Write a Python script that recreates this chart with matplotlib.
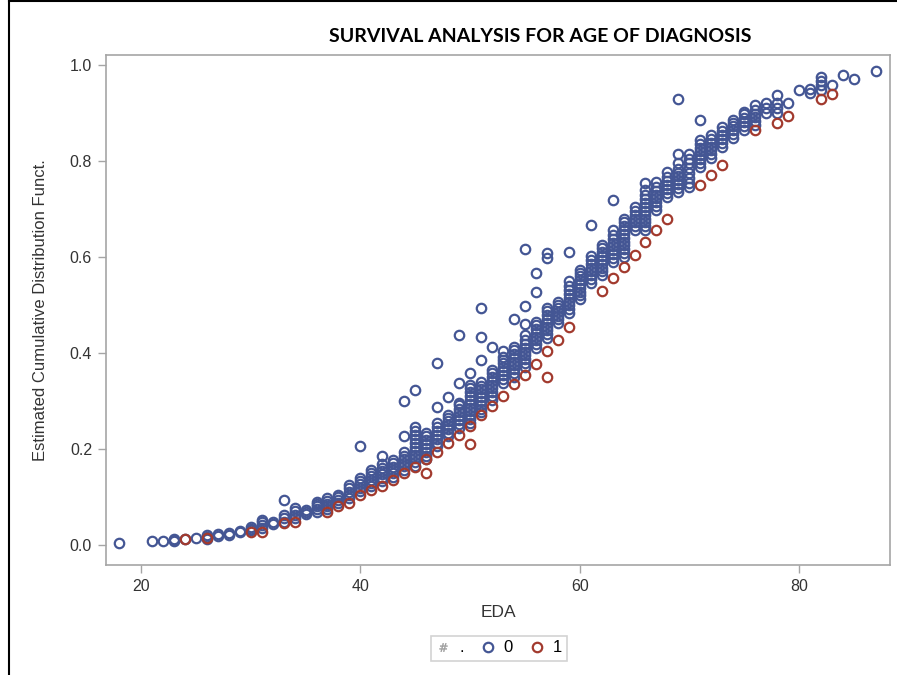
import matplotlib
matplotlib.use("Agg")
import matplotlib.pyplot as plt
from matplotlib.lines import Line2D

# group 0 (blue): age of diagnosis and estimated CDF values at that age
ages_0 = [18, 21, 22, 23, 24, 25, 26, 27, 28, 29, 30, 31, 32, 33, 34, 35, 36, 37, 38, 39,
          40, 41, 42, 43, 44, 45, 46, 47, 48, 49, 50, 51, 52, 53, 54, 55, 56, 57, 58, 59,
          60, 61, 62, 63, 64, 65, 66, 67, 68, 69, 70, 71, 72, 73, 74, 75, 76, 77, 78, 79,
          80, 81, 82, 83, 84, 85, 87]
cdf_0 = [
    [0.004], [0.007], [0.009], [0.009, 0.011, 0.013], [0.012], [0.014],
    [0.013, 0.017, 0.020], [0.019, 0.022], [0.021, 0.024], [0.026, 0.029],
    [0.030, 0.034, 0.038], [0.036, 0.042, 0.047, 0.052], [0.043, 0.047],
    [0.048, 0.055, 0.062, 0.094], [0.056, 0.063, 0.070, 0.077], [0.064, 0.069, 0.073],
    [0.068, 0.074, 0.080, 0.086, 0.090], [0.074, 0.080, 0.086, 0.092, 0.097],
    [0.088, 0.094, 0.099, 0.104], [0.098, 0.104, 0.111, 0.118, 0.125],
    [0.112, 0.119, 0.126, 0.133, 0.140, 0.205],
    [0.122, 0.129, 0.136, 0.143, 0.150, 0.156],
    [0.133, 0.140, 0.147, 0.154, 0.161, 0.168, 0.185],
    [0.142, 0.149, 0.156, 0.163, 0.170, 0.177],
    [0.157, 0.164, 0.171, 0.178, 0.186, 0.194, 0.226, 0.299],
    [0.164, 0.172, 0.180, 0.188, 0.196, 0.204, 0.212, 0.220, 0.228, 0.237, 0.246, 0.323],
    [0.178, 0.186, 0.194, 0.202, 0.210, 0.218, 0.226, 0.233],
    [0.205, 0.213, 0.221, 0.229, 0.237, 0.245, 0.254, 0.288, 0.379],
    [0.226, 0.234, 0.242, 0.250, 0.258, 0.265, 0.271, 0.309],
    [0.244, 0.252, 0.260, 0.268, 0.276, 0.284, 0.292, 0.296, 0.338, 0.4375],
    [0.254, 0.262, 0.270, 0.278, 0.286, 0.294, 0.302, 0.310, 0.318, 0.326, 0.333, 0.358],
    [0.276, 0.284, 0.292, 0.300, 0.308, 0.316, 0.324, 0.332, 0.339, 0.385, 0.433, 0.494],
    [0.302, 0.310, 0.318, 0.326, 0.334, 0.342, 0.350, 0.358, 0.365, 0.413],
    [0.338, 0.346, 0.354, 0.362, 0.370, 0.378, 0.386, 0.392, 0.405],
    [0.350, 0.358, 0.366, 0.374, 0.382, 0.390, 0.398, 0.406, 0.413, 0.470],
    [0.371, 0.379, 0.387, 0.395, 0.403, 0.411, 0.419, 0.427, 0.437, 0.460, 0.498, 0.617],
    [0.410, 0.418, 0.426, 0.434, 0.442, 0.450, 0.458, 0.465, 0.528, 0.567],
    [0.431, 0.439, 0.447, 0.455, 0.463, 0.471, 0.479, 0.487, 0.494, 0.598, 0.609],
    [0.462, 0.470, 0.478, 0.486, 0.494, 0.500, 0.507],
    [0.483, 0.491, 0.499, 0.507, 0.515, 0.523, 0.531, 0.540, 0.549, 0.611],
    [0.512, 0.520, 0.528, 0.536, 0.544, 0.552, 0.560, 0.567, 0.573],
    [0.546, 0.554, 0.562, 0.570, 0.578, 0.586, 0.594, 0.602, 0.667],
    [0.562, 0.570, 0.578, 0.586, 0.594, 0.602, 0.610, 0.618, 0.625],
    [0.590, 0.598, 0.606, 0.614, 0.622, 0.630, 0.638, 0.646, 0.656, 0.719],
    [0.600, 0.608, 0.616, 0.624, 0.632, 0.640, 0.648, 0.656, 0.664, 0.672, 0.680],
    [0.656, 0.664, 0.672, 0.680, 0.688, 0.696, 0.705],
    [0.656, 0.664, 0.672, 0.680, 0.688, 0.696, 0.704, 0.712, 0.720, 0.730, 0.740, 0.754],
    [0.698, 0.706, 0.714, 0.722, 0.730, 0.738, 0.746, 0.757],
    [0.726, 0.734, 0.742, 0.750, 0.758, 0.766, 0.778],
    [0.736, 0.744, 0.752, 0.760, 0.768, 0.776, 0.784, 0.795, 0.815, 0.929],
    [0.745, 0.755, 0.765, 0.775, 0.785, 0.795, 0.805, 0.815],
    [0.788, 0.796, 0.804, 0.812, 0.820, 0.828, 0.836, 0.844, 0.885],
    [0.806, 0.814, 0.822, 0.830, 0.838, 0.846, 0.854],
    [0.830, 0.838, 0.846, 0.854, 0.862, 0.871],
    [0.848, 0.856, 0.864, 0.872, 0.880, 0.885],
    [0.865, 0.873, 0.881, 0.889, 0.897, 0.903],
    [0.875, 0.883, 0.891, 0.899, 0.907, 0.917],
    [0.900, 0.910, 0.921], [0.900, 0.910, 0.920, 0.9375], [0.920],
    [0.949], [0.942, 0.950], [0.949, 0.958, 0.967, 0.976], [0.958], [0.979], [0.970], [0.988],
]

# group 1 (red)
ages_1 = [24, 26, 30, 31, 33, 34, 37, 38, 39, 40, 41, 42, 43, 44, 45, 46, 46, 47, 48, 49,
          50, 50, 51, 52, 53, 54, 55, 56, 57, 57, 58, 59, 62, 63, 64, 65, 66, 67, 68, 71,
          72, 73, 76, 78, 79, 82, 83]
cdf_1 = [0.012, 0.015, 0.027, 0.026, 0.045, 0.048, 0.069, 0.080, 0.088, 0.104, 0.114, 0.122,
         0.135, 0.150, 0.163, 0.150, 0.178, 0.194, 0.212, 0.229, 0.210, 0.248, 0.271, 0.289,
         0.310, 0.335, 0.354, 0.377, 0.349, 0.404, 0.427, 0.454, 0.530, 0.557, 0.580, 0.604,
         0.632, 0.656, 0.680, 0.750, 0.771, 0.792, 0.865, 0.880, 0.894, 0.929, 0.939]

blue = '#445694'
red = '#A23A2E'
grey = '#A5A5A5'

x0 = [a for a, col in zip(ages_0, cdf_0) for _ in col]
y0 = [v for col in cdf_0 for v in col]

fig = plt.figure(figsize=(8.97, 6.75), dpi=100)
ax = fig.add_axes([106 / 897, 1 - 565 / 675, 784 / 897, 510 / 675])

mk = dict(marker='o', linestyle='none', markersize=6.8, markeredgewidth=1.6,
          markerfacecolor='none')
ax.plot(x0, y0, markeredgecolor=blue, **mk)
ax.plot(ages_1, cdf_1, markeredgecolor=red, **mk)

ax.set_xlim(16.8, 88.3)
ax.set_ylim(-0.042, 1.021)
ax.set_xticks([20, 40, 60, 80])
ax.set_yticks([0.0, 0.2, 0.4, 0.6, 0.8, 1.0])
ax.set_yticklabels(['0.0', '0.2', '0.4', '0.6', '0.8', '1.0'])

font = 'Liberation Sans'
for s in ax.spines.values():
    s.set_color(grey)
    s.set_linewidth(1.2)
ax.tick_params(direction='out', length=6, width=1, color=grey, labelsize=11.5,
               labelcolor='#333333', pad=4)
for lbl in ax.get_xticklabels() + ax.get_yticklabels():
    lbl.set_fontfamily(font)

ax.set_xlabel('EDA', fontsize=12.5, family=font, color='#333333', labelpad=8)
ax.set_ylabel('Estimated Cumulative Distribution Funct.', fontsize=12, family=font,
              color='#333333', labelpad=16)

fig.text(540 / 897, 1 - 36 / 675, 'SURVIVAL ANALYSIS FOR AGE OF DIAGNOSIS',
         ha='center', va='center', fontsize=14, fontweight='bold', family='Lato')

handles = [
    Line2D([], [], marker='$\\#$', linestyle='none', color='#9A9A9A', markersize=6,
           markeredgewidth=0.3),
    Line2D([], [], markeredgecolor=blue, **mk),
    Line2D([], [], markeredgecolor=red, **mk),
]
leg = fig.legend(handles, ['.', '0', '1'], loc='center', bbox_to_anchor=(499 / 897, 1 - 648 / 675),
                 ncol=3, frameon=True, fancybox=False, edgecolor='#C8C8C8',
                 handlelength=0.9, handletextpad=0.5, columnspacing=1.0,
                 borderpad=0.3, prop={'family': font, 'size': 12})
leg.get_frame().set_linewidth(1.2)

# screenshot frame on the top and left
fig.add_artist(Line2D([9 / 897, 9 / 897], [0, 1], color='black', linewidth=1.5))
fig.add_artist(Line2D([9 / 897, 1], [1 - 1 / 675, 1 - 1 / 675], color='black', linewidth=1.5))

fig.savefig('out.png', dpi=100)
